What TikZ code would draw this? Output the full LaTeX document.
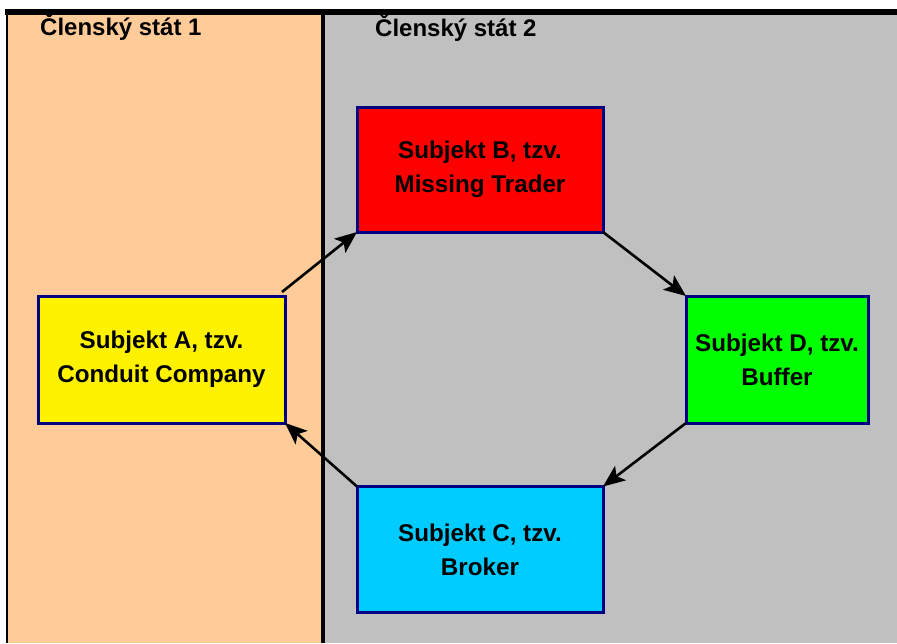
\documentclass[tikz,border=0pt]{standalone}
\usepackage{fontspec}
\setmainfont{Liberation Sans}
\usetikzlibrary{arrows.meta}
\definecolor{peach}{HTML}{FFCC99}
\definecolor{greybg}{HTML}{C0C0C0}
\definecolor{navyb}{HTML}{000080}
\definecolor{cyanb}{HTML}{00CCFF}
\definecolor{greenb}{HTML}{00FF00}
\tikzset{
  entity/.style={draw=navyb, line width=3pt, align=center, inner sep=2pt, outer sep=0pt,
    font=\bfseries\fontsize{24.2}{34}\selectfont},
  flow/.style={line width=2.6pt, -{Stealth[length=22pt,width=18pt,inset=5pt]}},
  header/.style={anchor=base west, inner sep=0pt, font=\bfseries\fontsize{24}{28}\selectfont}
}
\begin{document}
\begin{tikzpicture}[x=1pt,y=-1pt]
\useasboundingbox (0,0) rectangle (897,643);
\fill[white] (0,0) rectangle (897,643);
\fill[peach] (8,12) rectangle (322,643);
\fill[greybg] (322,12) rectangle (897,643);
\draw[line width=6pt] (5,12) -- (897,12);
\draw[line width=2.5pt] (7,9) -- (7,643);
\draw[line width=3.5pt] (323,12) -- (323,643);
\node[header] (h1) at (40,35) {Členský stát 1};
\node[header] (h2) at (375,36) {Členský stát 2};
\node[entity, fill=yellow, minimum width=247pt, minimum height=127pt] (A) at (161.5,359.5) {Subjekt A, tzv.\\Conduit Company};
\node[entity, fill=red, minimum width=246pt, minimum height=125pt] (B) at (480,169.5) {Subjekt B, tzv.\\Missing Trader};
\node[entity, fill=greenb, minimum width=182pt, minimum height=127pt] (D) at (777,359.5) {Subjekt D, tzv.\\Buffer};
\node[entity, fill=cyanb, minimum width=246pt, minimum height=126pt] (C) at (480,549.5) {Subjekt C, tzv.\\Broker};
\draw[flow] ([shift={(-3,-4)}]A.north east) -- (B.south west);
\draw[flow] (B.south east) -- (D.north west);
\draw[flow] (D.south west) -- (C.north east);
\draw[flow] (C.north west) -- (A.south east);
\end{tikzpicture}
\end{document}
